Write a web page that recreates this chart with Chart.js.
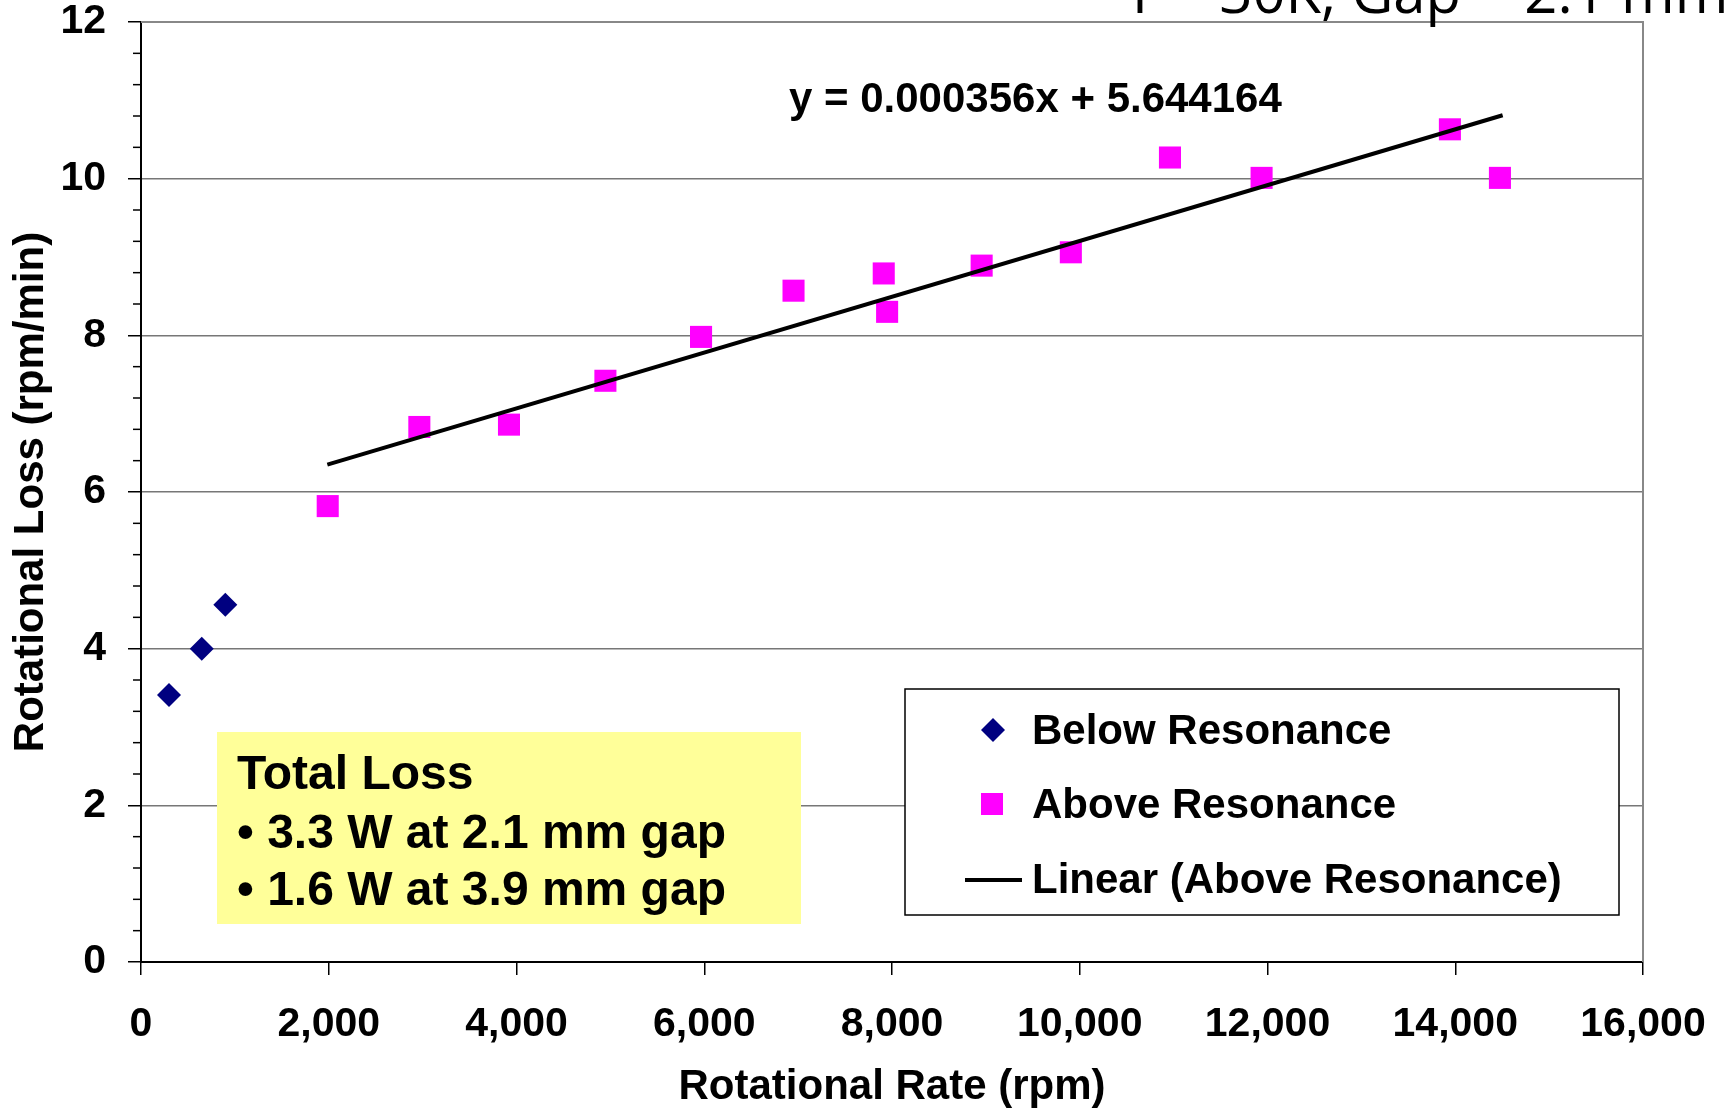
<!DOCTYPE html>
<html>
<head>
<meta charset="utf-8">
<title>Rotational Loss vs Rotational Rate</title>
<script src="https://cdn.jsdelivr.net/npm/chart.js@4.4.1/dist/chart.umd.min.js"></script>
<style>
  body { margin: 0; background: #fff; }
  #wrap { position: relative; width: 1725px; height: 1108px; }
</style>
</head>
<body>
<div id="wrap"><canvas id="chart"></canvas></div>
<script>
// below resonance points (rpm, rpm/min)
const belowRpm = [298, 647, 898];
const belowLoss = [3.41, 4.00, 4.56];

// above resonance points
const aboveRpm = [1989, 2965, 3920, 4947, 5966, 6951, 7912, 7948, 8955, 9905, 10961, 11937, 13943, 14476];
const aboveLoss = [5.82, 6.83, 6.86, 7.42, 7.98, 8.57, 8.79, 8.30, 8.89, 9.06, 10.27, 10.01, 10.63, 10.01];

// ends of the linear trendline as drawn
const trendRpm = [1985, 14505];
const trendLoss = [6.35, 10.81];

const fitLabel = "y = 0.000356x + 5.644164";
const slideTitle = "T = 30K, Gap = 2.1 mm";
const noteLines = ["Total Loss", "\u2022 3.3 W at 2.1 mm gap", "\u2022 1.6 W at 3.9 mm gap"];
const legendLabels = ["Below Resonance", "Above Resonance", "Linear (Above Resonance)"];
const xTitle = "Rotational Rate (rpm)";
const yTitle = "Rotational Loss (rpm/min)";

const FONT = '"Liberation Sans", Arial, sans-serif';
Chart.defaults.font.family = FONT;
Chart.defaults.color = "#000";

const toXY = (xs, ys) => xs.map((x, i) => ({ x: x, y: ys[i] }));
const isMajor = (v) => Math.abs(v / 2 - Math.round(v / 2)) < 1e-6;

const extras = {
    id: "extras",
    beforeDatasetsDraw(chart) {
        const { ctx, chartArea: a, scales } = chart;
        ctx.save();
        // grey frame on top and right
        ctx.strokeStyle = "#888";
        ctx.lineWidth = 2;
        ctx.beginPath();
        ctx.moveTo(a.left, a.top);
        ctx.lineTo(a.right, a.top);
        ctx.lineTo(a.right, a.bottom);
        ctx.stroke();
        // short minor ticks on the y axis
        ctx.strokeStyle = "#000";
        ctx.lineWidth = 1.5;
        scales.y.ticks.forEach((t) => {
            if (isMajor(t.value)) return;
            const py = scales.y.getPixelForValue(t.value);
            ctx.beginPath();
            ctx.moveTo(a.left - 8, py);
            ctx.lineTo(a.left, py);
            ctx.stroke();
        });
        ctx.restore();
    },
    afterDraw(chart) {
        const ctx = chart.ctx;
        ctx.save();
        ctx.textBaseline = "alphabetic";
        ctx.textAlign = "left";
        ctx.fillStyle = "#000";

        // slide title, cut off at the top
        ctx.font = '58px "Open Sans", sans-serif';
        ctx.fillText(slideTitle, 1124, 13);

        // trendline equation
        ctx.font = "bold 42px " + FONT;
        ctx.fillText(fitLabel, 789, 112);

        // yellow note box
        ctx.fillStyle = "#FFFF99";
        ctx.fillRect(217, 732, 584, 192);
        ctx.fillStyle = "#000";
        ctx.font = "bold 48px " + FONT;
        ctx.fillText(noteLines[0], 237, 789);
        ctx.fillText(noteLines[1], 237, 848);
        ctx.fillText(noteLines[2], 237, 905);

        // legend
        ctx.fillStyle = "#fff";
        ctx.fillRect(905, 689, 714, 226);
        ctx.strokeStyle = "#000";
        ctx.lineWidth = 1.5;
        ctx.strokeRect(905, 689, 714, 226);

        ctx.fillStyle = "#000080";
        ctx.beginPath();
        ctx.moveTo(993, 718);
        ctx.lineTo(1005, 730);
        ctx.lineTo(993, 742);
        ctx.lineTo(981, 730);
        ctx.closePath();
        ctx.fill();

        ctx.fillStyle = "#FF00FF";
        ctx.fillRect(981, 793, 22, 22);

        ctx.strokeStyle = "#000";
        ctx.lineWidth = 4;
        ctx.beginPath();
        ctx.moveTo(965, 880);
        ctx.lineTo(1022, 880);
        ctx.stroke();

        ctx.fillStyle = "#000";
        ctx.font = "bold 42px " + FONT;
        ctx.fillText(legendLabels[0], 1032, 744);
        ctx.fillText(legendLabels[1], 1032, 818);
        ctx.fillText(legendLabels[2], 1032, 893);
        ctx.restore();
    }
};

const context = document.getElementById("chart").getContext("2d");
new Chart(context, {
    type: "scatter",
    data: {
        datasets: [
            {
                label: legendLabels[2],
                type: "line",
                data: toXY(trendRpm, trendLoss),
                borderColor: "#000",
                borderWidth: 4,
                pointRadius: 0,
                pointHoverRadius: 0,
                fill: false,
                order: 0,
            },
            {
                label: legendLabels[0],
                data: toXY(belowRpm, belowLoss),
                pointStyle: "rectRot",
                pointRadius: 12,
                pointHoverRadius: 12,
                backgroundColor: "#000080",
                borderWidth: 0,
                order: 1,
            },
            {
                label: legendLabels[1],
                data: toXY(aboveRpm, aboveLoss),
                pointStyle: "rect",
                pointRadius: 15.6,
                pointHoverRadius: 15.6,
                backgroundColor: "#FF00FF",
                borderWidth: 0,
                order: 2,
            },
        ],
    },
    options: {
        responsive: true,
        maintainAspectRatio: false,
        animation: false,
        layout: { autoPadding: false, padding: { left: 0, top: 22, right: 82, bottom: 0 } },
        plugins: {
            legend: { display: false },
            tooltip: { enabled: false },
        },
        scales: {
            x: {
                type: "linear",
                min: 0,
                max: 16000,
                afterFit: (scale) => {
                    scale.height = 146;
                    scale.paddingLeft = 0;
                    scale.paddingRight = 0;
                },
                ticks: {
                    stepSize: 2000,
                    autoSkip: false,
                    maxRotation: 0,
                    padding: 29,
                    font: { size: 41, weight: "bold", lineHeight: 1.0 },
                    callback: (v) => v.toLocaleString("en-US"),
                },
                grid: {
                    drawOnChartArea: false,
                    tickLength: 13,
                    tickColor: "#000",
                    lineWidth: 1.5,
                },
                border: { color: "#000", width: 2 },
                title: {
                    display: true,
                    text: xTitle,
                    font: { size: 42, weight: "bold", lineHeight: 1.0 },
                    padding: { top: 0, bottom: 0 },
                },
            },
            y: {
                type: "linear",
                min: 0,
                max: 12,
                afterFit: (scale) => {
                    scale.width = 141;
                    scale.paddingTop = 0;
                    scale.paddingBottom = 0;
                },
                ticks: {
                    stepSize: 0.4,
                    autoSkip: false,
                    padding: 22,
                    font: { size: 41, weight: "bold", lineHeight: 1.0 },
                    callback: (v) => (isMajor(v) ? String(Math.round(v)) : ""),
                },
                grid: {
                    color: (c) => (c.tick && isMajor(c.tick.value) ? "#777" : "rgba(0,0,0,0)"),
                    tickColor: (c) => (c.tick && isMajor(c.tick.value) ? "#000" : "rgba(0,0,0,0)"),
                    lineWidth: 1.5,
                    tickLength: 13,
                },
                border: { color: "#000", width: 2 },
                title: {
                    display: true,
                    text: yTitle,
                    font: { size: 42, weight: "bold", lineHeight: 1.0 },
                    padding: { top: 10, bottom: 0 },
                },
            },
        },
    },
    plugins: [extras],
});
</script>
</body>
</html>
